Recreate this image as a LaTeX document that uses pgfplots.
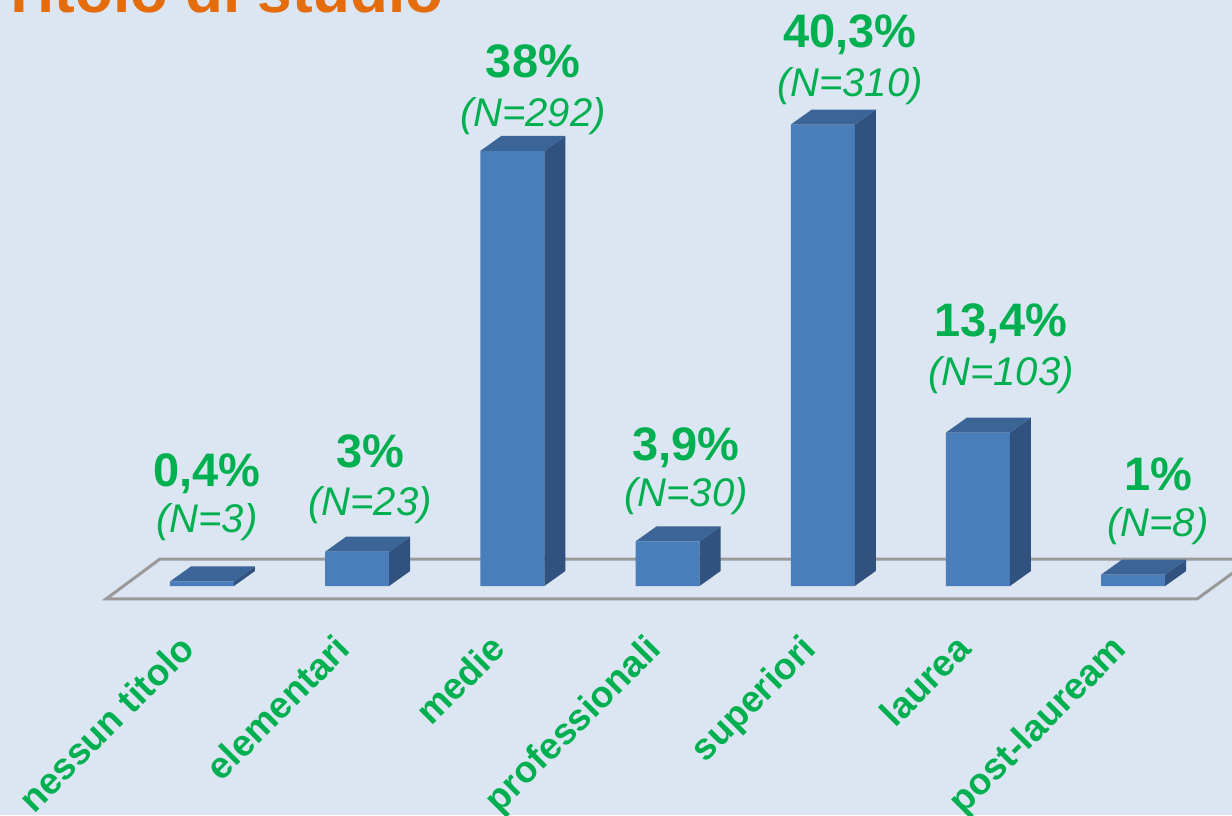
\documentclass[border=0pt]{standalone}
\usepackage{fontspec}
\setmainfont{Liberation Sans}
\usepackage{pgfplots}
\usepackage{pgfplotstable}
\pgfplotsset{compat=1.18}
\definecolor{bg}{HTML}{DCE6F2}
\definecolor{barfront}{HTML}{4A7EBB}
\definecolor{bartop}{HTML}{3B6497}
\definecolor{barside}{HTML}{31517F}
\definecolor{lblgreen}{HTML}{00B050}
\definecolor{ttlorange}{HTML}{E46C0A}
\definecolor{floorgray}{HTML}{9A9A9A}
\newcommand\valfont{\fontsize{47}{47}\selectfont\bfseries}
\newcommand\nfont{\fontsize{40}{40}\selectfont\itshape}
\pgfkeys{/pgf/number format/.cd, fixed, use comma, precision=1, assume math mode=true}

% x: category index, v: percent, n: count, lx/lb/ln: label position (x, baseline of % and of N)
\pgfplotstableread{
x v n lx lb ln
0 0.4 3 0.032 8.65 4.63
1 3 23 1.0825 10.31 6.20
2 38 292 2.1327 44.37 40.09
3 3.9 30 3.1186 11.00 6.90
4 40.3 310 4.1753 46.99 42.71
5 13.4 103 5.1482 21.75 17.55
6 1 8 6.1598 8.38 4.28
}\data

\begin{document}
\begin{tikzpicture}
\useasboundingbox (0,0) rectangle (1232pt,815pt);
\clip (0,0) rectangle (1232pt,815pt);
\begin{axis}[
  at={(0,0)}, anchor=south west,
  width=1232pt, height=815pt, scale only axis,
  xmin=-1.3015, xmax=6.6366, ymin=-20, ymax=51.18,
  axis line style={draw=none},
  axis background/.style={fill=bg},
  ytick=\empty,
  xtick={0,...,6},
  xticklabels={nessun titolo, elementari, medie, professionali, superiori, laurea, post-lauream},
  major tick length=0pt,
  xtick style={draw=none},
  xticklabel style={yshift=183pt, xshift=-24pt, rotate=45, anchor=north east, text=lblgreen, font=\fontsize{37}{37}\selectfont\bfseries, inner sep=0pt},
  clip=false,
]
% floor
\addplot[draw=floorgray, line width=3pt, fill=none] coordinates {(-0.6186,-1.135) (6.4111,-1.135) (6.7655,2.358) (-0.2706,2.358)} -- cycle;
% front faces
\addplot[ybar, bar width=0.4124, fill=barfront, draw=none] table[x=x, y=v]{\data};
% side and top faces, labels
\pgfplotsinvokeforeach{0,...,6}{
  \pgfplotstablegetelem{#1}{v}\of\data \let\bv\pgfplotsretval
  \pgfplotstablegetelem{#1}{n}\of\data \let\bn\pgfplotsretval
  \pgfplotstablegetelem{#1}{lx}\of\data \let\blx\pgfplotsretval
  \pgfplotstablegetelem{#1}{lb}\of\data \let\blb\pgfplotsretval
  \pgfplotstablegetelem{#1}{ln}\of\data \let\bln\pgfplotsretval
  \pgfmathsetmacro\xl{#1-0.2062}
  \pgfmathsetmacro\xr{#1+0.2062}
  \pgfmathsetmacro\xlb{#1-0.2062+0.1353}
  \pgfmathsetmacro\xrb{#1+0.2062+0.1353}
  \pgfmathsetmacro\vt{\bv+1.31}
  \edef\tmp{%
    \noexpand\addplot[fill=barside, draw=none] coordinates {(\xr,0) (\xrb,1.31) (\xrb,\vt) (\xr,\bv)} -- cycle;
    \noexpand\addplot[fill=bartop, draw=none] coordinates {(\xl,\bv) (\xr,\bv) (\xrb,\vt) (\xlb,\vt)} -- cycle;
    \noexpand\node[anchor=base, text=lblgreen, font=\noexpand\valfont] at (axis cs:\blx,\blb) {\noexpand\pgfmathprintnumber{\bv}\noexpand\%};
    \noexpand\node[anchor=base, text=lblgreen, font=\noexpand\nfont] at (axis cs:\blx,\bln) {(N=\bn)};
  }%
  \tmp
}
% title (cut at the top)
\node[anchor=base west, xshift=-3pt, yshift=-13pt, text=ttlorange, font=\fontsize{62}{62}\selectfont\bfseries] at (rel axis cs:0,1) {Titolo di studio};
\end{axis}
\end{tikzpicture}
\end{document}
